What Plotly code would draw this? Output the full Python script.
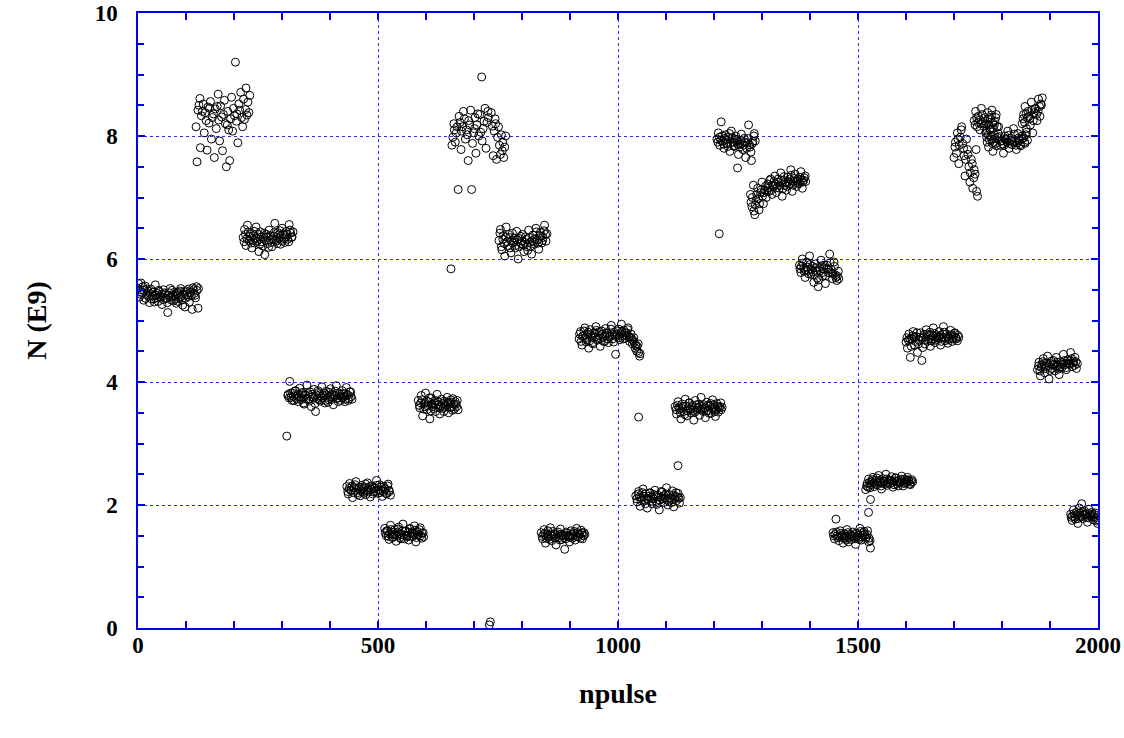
import numpy as np
import plotly.graph_objects as go

# Bunch intensity per pulse, grouped in runs of steady setting.
# Each run: first pulse, last pulse, measured N (E9) values in pulse order.
run_first = [0, 121, 219, 310, 435, 514, 584, 652, 752, 840, 919, 1037, 1119,
             1206, 1276, 1378, 1448, 1516, 1600, 1700, 1742, 1766, 1842, 1874, 1943]
run_last = [126, 233, 323, 446, 526, 595, 667, 766, 852, 931, 1046, 1130, 1217,
            1286, 1391, 1460, 1526, 1614, 1710, 1749, 1790, 1853, 1884, 1957, 2000]

run_01 = [5.52, 5.60, 5.38, 5.47, 5.61, 5.42, 5.45, 5.55, 5.33, 5.49, 5.56, 5.36, 5.42, 5.51,
          5.48, 5.39, 5.29, 5.44, 5.51, 5.35, 5.40, 5.46, 5.35, 5.30, 5.58, 5.41, 5.44, 5.37,
          5.31, 5.49, 5.47, 5.38, 5.39, 5.43, 5.26, 5.34, 5.50, 5.45, 5.43, 5.36, 5.36, 5.29,
          5.13, 5.41, 5.45, 5.52, 5.38, 5.33, 5.49, 5.40, 5.32, 5.46, 5.41, 5.35, 5.28, 5.44,
          5.46, 5.31, 5.37, 5.48, 5.52, 5.39, 5.34, 5.25, 5.43, 5.47, 5.22, 5.36, 5.48, 5.42,
          5.39, 5.51, 5.30, 5.46, 5.45, 5.40, 5.18, 5.53, 5.50, 5.44, 5.41, 5.37, 5.55, 5.49,
          5.20, 5.52]
run_02 = [8.15, 7.58, 8.42, 8.50, 8.61, 7.81, 8.33, 8.40, 8.52, 8.05, 8.38, 8.25, 7.77, 8.47,
          8.21, 8.45, 8.56, 7.95, 8.30, 8.36, 7.65, 8.44, 8.12, 8.48, 8.68, 8.26, 7.92, 8.49,
          8.31, 7.76, 8.35, 8.58, 8.20, 7.50, 8.18, 8.40, 8.10, 7.60, 8.28, 8.63, 8.08, 8.45,
          8.33, 9.20, 8.24, 8.36, 7.89, 8.52, 8.42, 8.71, 8.30, 8.15, 8.60, 8.27, 8.43, 8.78,
          8.34, 8.55, 8.38, 8.66]
run_03 = [6.35, 6.28, 6.48, 6.40, 6.22, 6.33, 6.55, 6.44, 6.30, 6.37, 6.41, 6.26, 6.18, 6.31,
          6.38, 6.45, 6.26, 6.34, 6.52, 6.29, 6.33, 6.40, 6.12, 6.24, 6.44, 6.36, 6.28, 6.21,
          6.36, 6.42, 6.07, 6.30, 6.40, 6.35, 6.25, 6.19, 6.47, 6.38, 6.31, 6.27, 6.20, 6.33,
          6.37, 6.43, 6.58, 6.32, 6.29, 6.25, 6.43, 6.39, 6.34, 6.46, 6.24, 6.30, 6.50, 6.41,
          6.39, 6.33, 6.27, 6.36, 6.45, 6.40, 6.32, 6.28, 6.56, 6.47, 6.42, 6.35, 6.36, 6.44]
run_04 = [3.12, 3.78, 3.80, 3.74, 4.01, 3.82, 3.75, 3.70, 3.82, 3.77, 3.70, 3.85, 3.86, 3.73,
          3.77, 3.80, 3.68, 3.76, 3.90, 3.71, 3.74, 3.83, 3.81, 3.66, 3.64, 3.78, 3.79, 3.72,
          3.95, 3.81, 3.72, 3.69, 3.84, 3.76, 3.60, 3.80, 3.76, 3.74, 3.88, 3.65, 3.52, 3.79,
          3.73, 3.86, 3.83, 3.71, 3.69, 3.77, 3.92, 3.74, 3.78, 3.82, 3.66, 3.70, 3.85, 3.79,
          3.75, 3.67, 3.71, 3.83, 3.89, 3.76, 3.80, 3.72, 3.63, 3.79, 3.77, 3.85, 3.94, 3.73,
          3.74, 3.68, 3.82, 3.80, 3.70, 3.77, 3.86, 3.74, 3.76, 3.81, 3.68, 3.72, 3.91, 3.78,
          3.79, 3.70, 3.73, 3.84, 3.84, 3.76, 3.72]
run_05 = [2.30, 2.22, 2.18, 2.27, 2.35, 2.24, 2.24, 2.31, 2.12, 2.20, 2.28, 2.33, 2.38, 2.25,
          2.20, 2.17, 2.26, 2.29, 2.15, 2.23, 2.32, 2.27, 2.22, 2.19, 2.29, 2.34, 2.17, 2.24,
          2.36, 2.21, 2.25, 2.30, 2.13, 2.26, 2.31, 2.18, 2.21, 2.28, 2.27, 2.23, 2.40, 2.32,
          2.19, 2.25, 2.33, 2.20, 2.23, 2.29, 2.14, 2.22, 2.30, 2.27, 2.26, 2.19, 2.18, 2.31,
          2.34, 2.24, 2.22, 2.16]
run_06 = [1.62, 1.55, 1.50, 1.58, 1.58, 1.49, 1.44, 1.53, 1.67, 1.60, 1.53, 1.47, 1.48, 1.56,
          1.60, 1.52, 1.41, 1.50, 1.56, 1.61, 1.64, 1.54, 1.47, 1.45, 1.52, 1.58, 1.69, 1.51,
          1.45, 1.57, 1.58, 1.49, 1.50, 1.55, 1.43, 1.62, 1.61, 1.48, 1.54, 1.56, 1.49, 1.53,
          1.66, 1.59, 1.40, 1.47, 1.57, 1.51, 1.52, 1.60, 1.63, 1.50, 1.46, 1.54, 1.55, 1.48]
run_07 = [3.70, 3.62, 3.58, 3.66, 3.78, 3.71, 3.45, 3.56, 3.65, 3.60, 3.82, 3.69, 3.55, 3.61,
          3.68, 3.74, 3.40, 3.53, 3.74, 3.64, 3.60, 3.57, 3.66, 3.70, 3.52, 3.63, 3.80, 3.68,
          3.63, 3.58, 3.48, 3.61, 3.72, 3.65, 3.57, 3.52, 3.69, 3.60, 3.62, 3.67, 3.75, 3.66,
          3.50, 3.58, 3.67, 3.71, 3.59, 3.54, 3.73, 3.64, 3.56, 3.68, 3.64, 3.60, 3.70, 3.55]
run_08 = [5.84, 7.85, 7.98, 8.20, 8.10, 7.90, 8.05, 8.15, 7.13, 8.32, 8.22, 7.78, 8.08, 8.15,
          8.40, 8.28, 7.95, 8.10, 8.02, 7.60, 8.25, 8.18, 8.42, 7.13, 7.88, 8.05, 8.12, 8.30,
          7.72, 8.18, 8.36, 8.00, 8.35, 8.06, 8.96, 7.92, 8.12, 8.24, 8.45, 7.80, 8.22, 8.40,
          8.30, 0.05, 0.10, 8.38, 8.16, 7.68, 8.08, 8.28, 8.20, 7.62, 7.98, 8.15, 7.85, 7.70,
          8.02, 7.76, 7.90, 7.65, 7.82, 8.00]
run_09 = [6.30, 6.42, 6.48, 6.20, 6.15, 6.32, 6.38, 6.25, 6.05, 6.36, 6.52, 6.28, 6.22, 6.40,
          6.35, 6.18, 6.10, 6.30, 6.42, 6.26, 6.28, 6.34, 6.18, 6.22, 6.45, 6.31, 6.00, 6.20,
          6.33, 6.37, 6.25, 6.29, 6.40, 6.23, 6.12, 6.27, 6.36, 6.32, 6.20, 6.14, 6.47, 6.35,
          6.27, 6.21, 6.08, 6.30, 6.39, 6.28, 6.24, 6.33, 6.50, 6.44, 6.31, 6.26, 6.16, 6.38,
          6.43, 6.37, 6.26, 6.30, 6.35, 6.46, 6.55, 6.40, 6.29, 6.41]
run_10 = [1.55, 1.49, 1.45, 1.52, 1.60, 1.54, 1.38, 1.46, 1.52, 1.58, 1.48, 1.44, 1.63, 1.51,
          1.42, 1.49, 1.57, 1.53, 1.50, 1.46, 1.35, 1.48, 1.53, 1.56, 1.47, 1.43, 1.61, 1.52,
          1.44, 1.50, 1.51, 1.47, 1.28, 1.45, 1.56, 1.54, 1.49, 1.51, 1.40, 1.48, 1.58, 1.52,
          1.46, 1.50, 1.54, 1.57, 1.43, 1.49, 1.62, 1.55, 1.48, 1.53, 1.52, 1.46, 1.59, 1.55,
          1.45, 1.50, 1.55, 1.52]
run_11 = [4.70, 4.78, 4.82, 4.66, 4.60, 4.74, 4.75, 4.83, 4.88, 4.72, 4.65, 4.69, 4.78, 4.81,
          4.55, 4.67, 4.85, 4.76, 4.72, 4.64, 4.62, 4.79, 4.80, 4.73, 4.90, 4.84, 4.68, 4.70,
          4.76, 4.82, 4.58, 4.71, 4.83, 4.78, 4.73, 4.66, 4.66, 4.75, 4.87, 4.80, 4.79, 4.70,
          4.64, 4.73, 4.74, 4.86, 4.92, 4.77, 4.70, 4.65, 4.81, 4.78, 4.45, 4.74, 4.77, 4.83,
          4.86, 4.72, 4.69, 4.78, 4.94, 4.82, 4.75, 4.70, 4.84, 4.80, 4.71, 4.76, 4.80, 4.85,
          4.88, 4.74, 4.66, 4.72, 4.78, 4.70, 4.62, 4.68, 4.72, 4.64, 4.55, 4.60, 4.50, 4.58,
          4.62, 4.48, 4.42, 4.46]
run_12 = [2.15, 2.10, 2.05, 2.18, 2.22, 2.13, 1.98, 2.07, 2.12, 2.20, 2.26, 2.14, 2.08, 2.02,
          2.18, 2.11, 1.95, 2.09, 2.14, 2.19, 2.20, 2.12, 2.02, 2.06, 2.10, 2.17, 2.24, 2.15,
          2.06, 2.01, 2.16, 2.13, 1.92, 2.08, 2.13, 2.22, 2.21, 2.10, 2.04, 2.15, 2.11, 2.18,
          2.28, 2.09, 2.00, 2.06, 2.17, 2.12, 2.09, 2.04, 2.23, 2.16, 1.97, 2.10, 2.14, 2.20,
          2.07, 2.13, 2.19, 2.11, 2.03, 2.12]
run_13 = [3.60, 3.55, 3.48, 3.62, 3.68, 3.58, 3.55, 3.50, 3.40, 3.57, 3.64, 3.60, 3.52, 3.47,
          3.72, 3.61, 3.45, 3.53, 3.58, 3.66, 3.66, 3.56, 3.50, 3.59, 3.62, 3.54, 3.38, 3.51,
          3.70, 3.63, 3.54, 3.57, 3.59, 3.64, 3.46, 3.55, 3.75, 3.60, 3.56, 3.52, 3.63, 3.58,
          3.42, 3.53, 3.67, 3.62, 3.53, 3.49, 3.61, 3.65, 3.49, 3.56, 3.71, 3.63, 3.57, 3.52,
          3.44, 3.55, 3.65, 3.60, 3.51, 3.58, 3.60, 3.66, 3.55, 3.59]
run_14 = [7.95, 7.90, 8.05, 7.98, 7.85, 7.93, 8.23, 8.00, 7.92, 7.87, 7.80, 7.96, 8.02, 7.94,
          7.88, 7.83, 7.98, 8.04, 7.75, 7.89, 8.08, 7.97, 7.90, 7.84, 7.83, 7.95, 8.00, 7.91,
          7.94, 7.86, 7.70, 7.82, 7.87, 7.93, 8.03, 7.88, 7.78, 7.85, 7.96, 7.90, 7.65, 7.80,
          7.89, 7.96, 8.18, 7.86, 7.82, 7.74, 7.60, 7.88, 7.91, 8.00, 8.04, 7.92]
run_15 = [7.05, 6.92, 6.85, 7.00, 7.20, 6.78, 6.72, 6.88, 6.95, 7.05, 7.15, 6.98, 6.80, 6.90,
          7.08, 7.12, 7.25, 7.02, 6.90, 7.08, 7.12, 7.18, 7.00, 7.10, 7.22, 7.15, 7.10, 7.28,
          7.30, 7.12, 7.05, 7.20, 7.18, 7.26, 7.35, 7.22, 7.08, 7.16, 7.25, 7.30, 7.15, 7.20,
          7.40, 7.28, 7.02, 7.14, 7.28, 7.34, 7.20, 7.25, 7.12, 7.18, 7.33, 7.26, 7.22, 7.30,
          7.45, 7.36, 7.10, 7.20, 7.26, 7.31, 7.38, 7.24, 7.18, 7.27, 7.30, 7.22, 7.24, 7.33,
          7.42, 7.28, 7.15, 7.25, 7.28, 7.32, 7.35, 7.26]
run_16 = [5.90, 5.84, 5.78, 5.88, 6.00, 5.93, 5.85, 5.80, 5.70, 5.82, 5.95, 5.87, 5.82, 5.76,
          6.05, 5.91, 5.75, 5.83, 5.88, 5.79, 5.62, 5.74, 5.92, 5.86, 5.80, 5.69, 5.55, 5.66,
          5.86, 5.81, 5.98, 5.89, 5.72, 5.78, 5.84, 5.90, 5.60, 5.73, 5.90, 5.85, 5.78, 5.83,
          6.08, 5.94, 5.83, 5.77, 5.68, 5.76, 5.95, 5.88, 5.74, 5.70, 5.65, 5.72, 5.80, 5.68]
run_17 = [1.55, 1.50, 1.45, 1.52, 1.77, 1.56, 1.50, 1.47, 1.42, 1.49, 1.58, 1.54, 1.48, 1.51,
          1.38, 1.46, 1.53, 1.50, 1.46, 1.43, 1.60, 1.55, 1.40, 1.47, 1.52, 1.49, 1.44, 1.50,
          1.56, 1.53, 1.49, 1.45, 1.36, 1.48, 1.54, 1.51, 1.47, 1.44, 1.62, 1.57, 1.43, 1.48,
          1.51, 1.55, 1.57, 1.52, 1.45, 1.48, 1.52, 1.58, 1.40, 1.46, 1.42, 1.30]
run_18 = [2.25, 2.31, 2.35, 2.29, 2.42, 2.37, 2.28, 2.33, 2.38, 2.41, 2.45, 2.36, 2.30, 2.34,
          2.40, 2.44, 2.33, 2.37, 2.48, 2.40, 2.36, 2.31, 2.26, 2.35, 2.43, 2.39, 2.38, 2.34,
          2.50, 2.42, 2.32, 2.36, 2.41, 2.38, 2.35, 2.40, 2.46, 2.37, 2.29, 2.33, 2.39, 2.44,
          2.44, 2.38, 2.34, 2.31, 2.40, 2.36, 2.37, 2.42, 2.47, 2.39, 2.31, 2.35, 2.42, 2.38,
          2.36, 2.40, 2.45, 2.41, 2.39, 2.34, 2.33, 2.37, 2.41, 2.38]
run_19 = [4.65, 4.72, 4.55, 4.68, 4.78, 4.70, 4.40, 4.58, 4.70, 4.75, 4.82, 4.73, 4.60, 4.66,
          4.74, 4.80, 4.48, 4.62, 4.68, 4.73, 4.80, 4.71, 4.35, 4.56, 4.72, 4.77, 4.62, 4.69,
          4.85, 4.78, 4.66, 4.70, 4.76, 4.81, 4.58, 4.67, 4.70, 4.74, 4.88, 4.79, 4.64, 4.68,
          4.75, 4.72, 4.69, 4.73, 4.82, 4.76, 4.60, 4.66, 4.73, 4.78, 4.90, 4.81, 4.67, 4.71,
          4.78, 4.74, 4.63, 4.69, 4.71, 4.76, 4.84, 4.77, 4.66, 4.70, 4.74, 4.79, 4.80, 4.72,
          4.70, 4.67, 4.76, 4.73]
run_20 = [7.65, 7.82, 7.90, 7.72, 8.05, 7.95, 7.55, 7.85, 7.98, 8.10, 8.15, 7.88, 7.80, 7.68,
          7.35, 7.62, 7.95, 7.78, 7.70, 7.50, 7.25, 7.40, 7.62, 7.55, 7.15, 7.32, 7.45, 7.38,
          7.78, 7.10, 7.02]
run_21 = [8.25, 8.18, 8.40, 8.30, 8.15, 8.22, 8.32, 8.26, 8.10, 8.20, 8.45, 8.35, 8.22, 8.16,
          8.30, 8.24, 8.08, 8.19, 8.38, 8.28, 8.18, 8.12, 8.28, 8.34, 8.42, 8.21, 8.12, 8.18,
          8.24, 8.30, 8.35, 8.15]
run_22 = [8.05, 7.98, 7.90, 8.02, 7.82, 7.93, 8.10, 8.00, 7.95, 7.88, 7.75, 7.90, 8.02, 7.96,
          7.88, 7.84, 7.98, 8.04, 8.15, 7.99, 7.85, 7.92, 7.92, 7.87, 7.72, 7.85, 8.00, 7.95,
          7.94, 7.90, 8.08, 8.01, 7.80, 7.88, 7.96, 7.93, 7.86, 7.91, 8.12, 8.03, 7.90, 7.85,
          7.78, 7.89, 8.04, 7.97, 7.92, 7.86, 7.84, 7.95, 8.00, 7.97, 7.97, 7.90, 7.88, 8.02,
          8.06, 7.93]
run_23 = [8.20, 8.28, 8.35, 8.22, 8.48, 8.36, 8.12, 8.30, 8.40, 8.32, 8.28, 8.18, 8.55, 8.42,
          8.05, 8.25, 8.38, 8.44, 8.45, 8.35, 8.25, 8.40, 8.60, 8.48, 8.32, 8.52, 8.50, 8.62]
run_24 = [4.20, 4.26, 4.32, 4.18, 4.10, 4.24, 4.28, 4.33, 4.38, 4.30, 4.15, 4.22, 4.25, 4.31,
          4.42, 4.27, 4.05, 4.19, 4.30, 4.34, 4.22, 4.28, 4.35, 4.29, 4.18, 4.25, 4.40, 4.32,
          4.26, 4.21, 4.12, 4.24, 4.33, 4.29, 4.24, 4.30, 4.45, 4.35, 4.28, 4.23, 4.20, 4.31,
          4.36, 4.29, 4.30, 4.34, 4.48, 4.38, 4.25, 4.31, 4.34, 4.27, 4.40, 4.33, 4.22, 4.30]
run_25 = [1.85, 1.80, 1.75, 1.82, 1.92, 1.86, 1.80, 1.77, 1.88, 1.84, 1.70, 1.78, 1.95, 1.87,
          1.83, 1.81, 2.02, 1.89, 1.78, 1.83, 1.90, 1.85, 1.86, 1.80, 1.72, 1.79, 1.93, 1.86,
          1.82, 1.84, 1.88, 1.85, 1.76, 1.81, 1.84, 1.87, 1.79, 1.74, 1.70, 1.76]

run_values = [run_01, run_02, run_03, run_04, run_05, run_06, run_07, run_08, run_09,
              run_10, run_11, run_12, run_13, run_14, run_15, run_16, run_17, run_18,
              run_19, run_20, run_21, run_22, run_23, run_24, run_25]

# isolated pulses between runs
stray_pulse = [1043, 1125, 1211, 1249, 1522, 1526]
stray_n = [3.43, 2.64, 6.41, 7.48, 1.88, 2.09]

pulses, values = [], []
for first, last, vals in zip(run_first, run_last, run_values):
    pulses.extend(np.linspace(first, last, len(vals)).round())
    values.extend(vals)
pulses.extend(stray_pulse)
values.extend(stray_n)

AXIS_BLUE = "#0000ee"
GRID_BLUE = "#2a2aff"
SERIF = "Liberation Serif"

fig = go.Figure(go.Scatter(
    x=pulses, y=values, mode="markers",
    marker=dict(symbol="circle-open", size=8, color="black", line=dict(width=1, color="black")),
    showlegend=False, hoverinfo="x+y",
))

common = dict(
    showline=True, linecolor=AXIS_BLUE, linewidth=1.5, mirror="ticks",
    ticks="inside", tickcolor=AXIS_BLUE, tickwidth=1.5, ticklen=7,
    showgrid=True, gridcolor=GRID_BLUE, gridwidth=1, griddash="dot",
    zeroline=False, automargin=False,
    tickfont=dict(family=SERIF, size=23, color="black", weight="bold"),
)

fig.update_xaxes(
    range=[0, 2000], tick0=0, dtick=500,
    minor=dict(dtick=100, ticks="inside", ticklen=7, tickcolor=AXIS_BLUE, tickwidth=1.5, showgrid=False),
    title=dict(text="<b>npulse</b>", font=dict(family=SERIF, size=28, color="black"), standoff=26),
    ticklabelstandoff=-4,
    **common,
)
fig.update_yaxes(
    range=[0, 10], tick0=0, dtick=2,
    minor=dict(dtick=0.5, ticks="inside", ticklen=6, tickcolor=AXIS_BLUE, tickwidth=1.5, showgrid=False),
    title=dict(text="<b>N (E9)</b>", font=dict(family=SERIF, size=28, color="black"), standoff=40),
    ticklabelstandoff=14,
    **common,
)

fig.update_layout(
    width=1124, height=738,
    margin=dict(l=138, r=26, t=13, b=110),
    paper_bgcolor="white", plot_bgcolor="white",
)

fig.write_html("out.html")
